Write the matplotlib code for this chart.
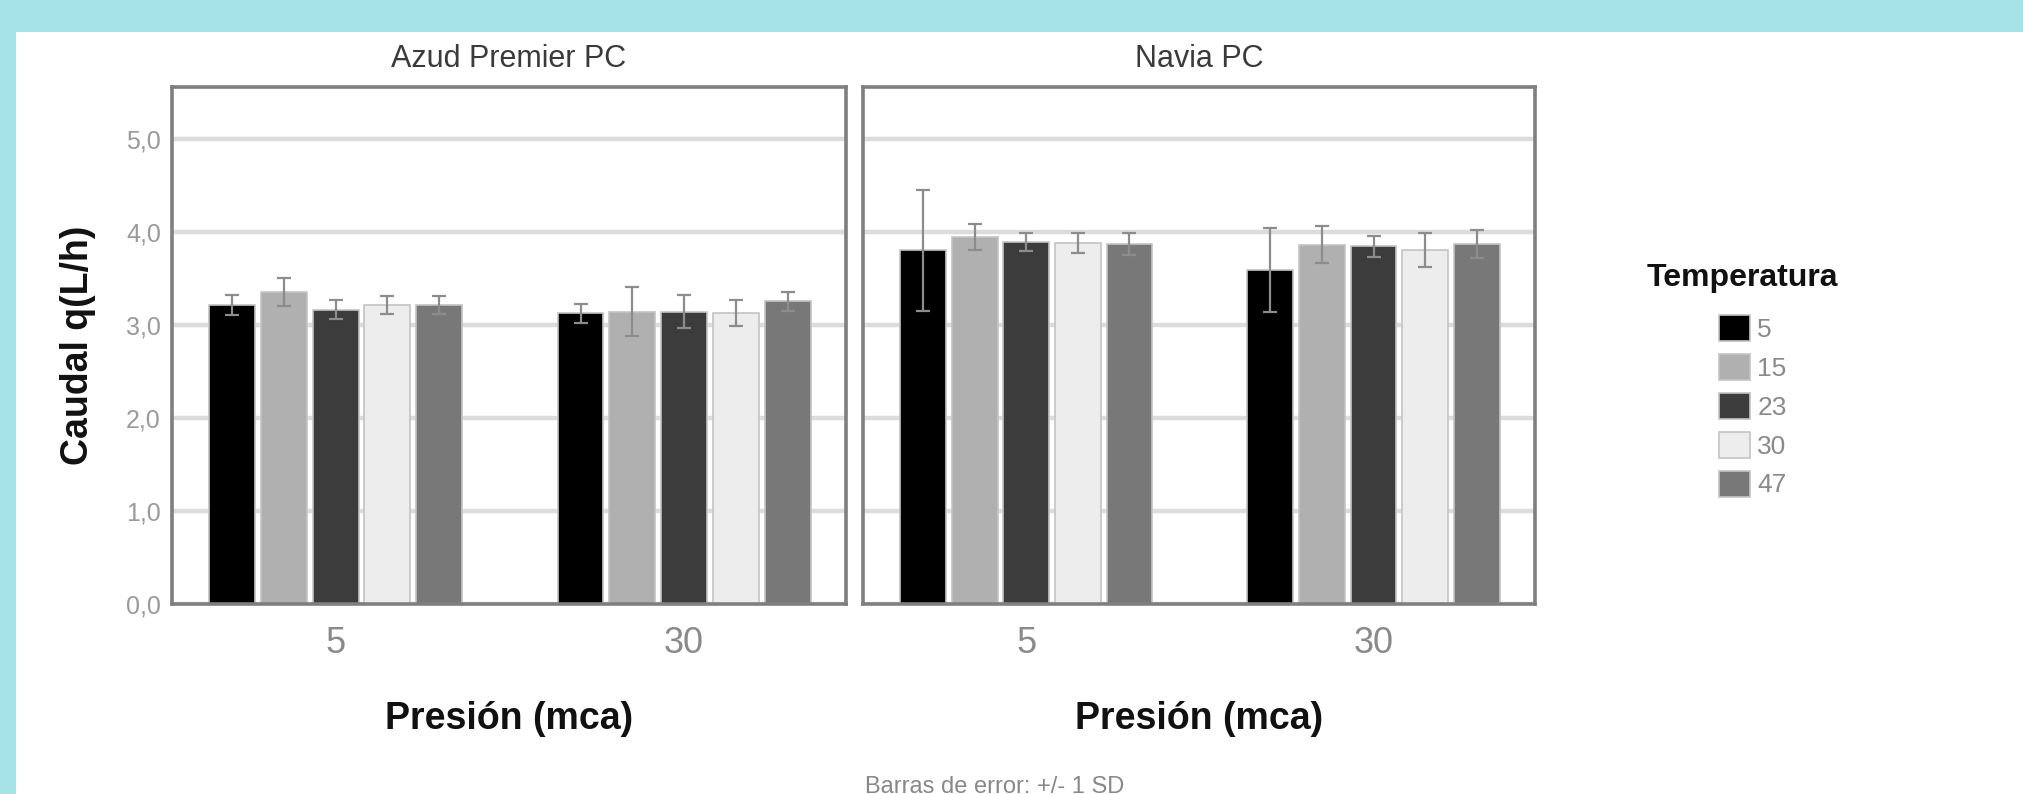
import matplotlib.pyplot as plt
import numpy as np
from matplotlib.patches import Rectangle

plt.rcParams['font.family'] = ['Liberation Sans', 'DejaVu Sans']

# data
panels = ['Azud Premier PC', 'Navia PC']
pressures = ['5', '30']
temps = ['5', '15', '23', '30', '47']
colors = ['#000000', '#b0b0b0', '#3c3c3c', '#ededed', '#787878']

# rows = presion 5, 30 ; cols = temperatura 5, 15, 23, 30, 47
azud_mean = [[3.21, 3.35, 3.16, 3.21, 3.21],
             [3.12, 3.14, 3.14, 3.12, 3.25]]
azud_sd = [[0.11, 0.15, 0.10, 0.10, 0.10],
           [0.10, 0.26, 0.18, 0.14, 0.10]]
navia_mean = [[3.80, 3.94, 3.89, 3.88, 3.87],
              [3.59, 3.86, 3.84, 3.80, 3.87]]
navia_sd = [[0.65, 0.14, 0.10, 0.11, 0.12],
            [0.45, 0.20, 0.11, 0.18, 0.15]]

yticks = [0, 1, 2, 3, 4, 5]
ytick_labels = ['0,0', '1,0', '2,0', '3,0', '4,0', '5,0']

W, H = 2024, 794
fig = plt.figure(figsize=(W / 100, H / 100), dpi=100)
fig.patch.set_facecolor('#a6e3e6')
fig.add_artist(Rectangle((16 / W, 0), 1, 1 - 32 / H, transform=fig.transFigure,
                         facecolor='white', edgecolor='none', zorder=-1))

frame = '#7f7f7f'
bottom = 1 - 603.7 / H
height = (603.7 - 86.5) / H
lefts = [172 / W, 863 / W]
widths = [674 / W, 672 / W]

step = 0.1486
bw = 0.132
x = np.arange(len(pressures))
handles = []

for k, (name, means, sds) in enumerate(zip(panels, [azud_mean, navia_mean], [azud_sd, navia_sd])):
    ax = fig.add_axes([lefts[k], bottom, widths[k], height])
    means = np.array(means)
    sds = np.array(sds)
    for i, t in enumerate(temps):
        pos = x + (i - 2) * step
        b = ax.bar(pos, means[:, i], width=bw, color=colors[i], edgecolor='#c4c4c4',
                   linewidth=1.2, zorder=2, label=t)
        ax.errorbar(pos, means[:, i], yerr=sds[:, i], fmt='none', ecolor='#8c8c8c',
                    elinewidth=1.6, capsize=5, capthick=1.6, zorder=3)
        if k == 0:
            handles.append(b)

    ax.set_xlim(-0.47, 1.465)
    ax.set_ylim(0, 5.56)
    ax.set_xticks(x)
    ax.set_xticklabels(pressures)
    ax.set_yticks(yticks)
    ax.set_yticklabels(ytick_labels)
    ax.yaxis.grid(True, color='#dcdcdc', linewidth=3.2)
    ax.set_axisbelow(True)
    for s in ax.spines.values():
        s.set_color(frame)
        s.set_linewidth(2.6)
    ax.tick_params(axis='y', length=0, pad=8, labelsize=18, labelcolor='#9a9a9a')
    ax.tick_params(axis='x', length=0, pad=16, labelsize=26, labelcolor='#8a8a8a')
    if k == 1:
        ax.tick_params(axis='y', labelleft=False)

    cx = lefts[k] + widths[k] / 2
    fig.text(cx, 1 - 59 / H, name, ha='center', va='center', fontsize=22, color='#3a3a3a')
    fig.text(cx, 1 - 719 / H, 'Presión (mca)', ha='center', va='center', fontsize=27,
             fontweight='bold', color='#111111')

fig.text(78 / W, 1 - 345 / H, 'Caudal q(L/h)', rotation=90, ha='center', va='center',
         fontsize=27, fontweight='bold', color='#111111')

# legend: title placed on its own, entries below
fig.text(1742 / W, 1 - 278 / H, 'Temperatura', ha='center', va='center',
         fontsize=23, fontweight='bold', color='#111111')
fig.legend(handles, temps, loc='upper left',
           bbox_to_anchor=(1706 / W, 1 - 302 / H), frameon=False, borderpad=0,
           fontsize=19, handlelength=1.17, handleheight=1.14, labelspacing=0.45,
           handletextpad=0.27, labelcolor='#8a8a8a')

fig.text(995 / W, 1 - 776 / H, 'Barras de error: +/- 1 SD', ha='center', va='top',
         fontsize=17, color='#888888')

fig.savefig('out.png', dpi=100, facecolor=fig.get_facecolor())
